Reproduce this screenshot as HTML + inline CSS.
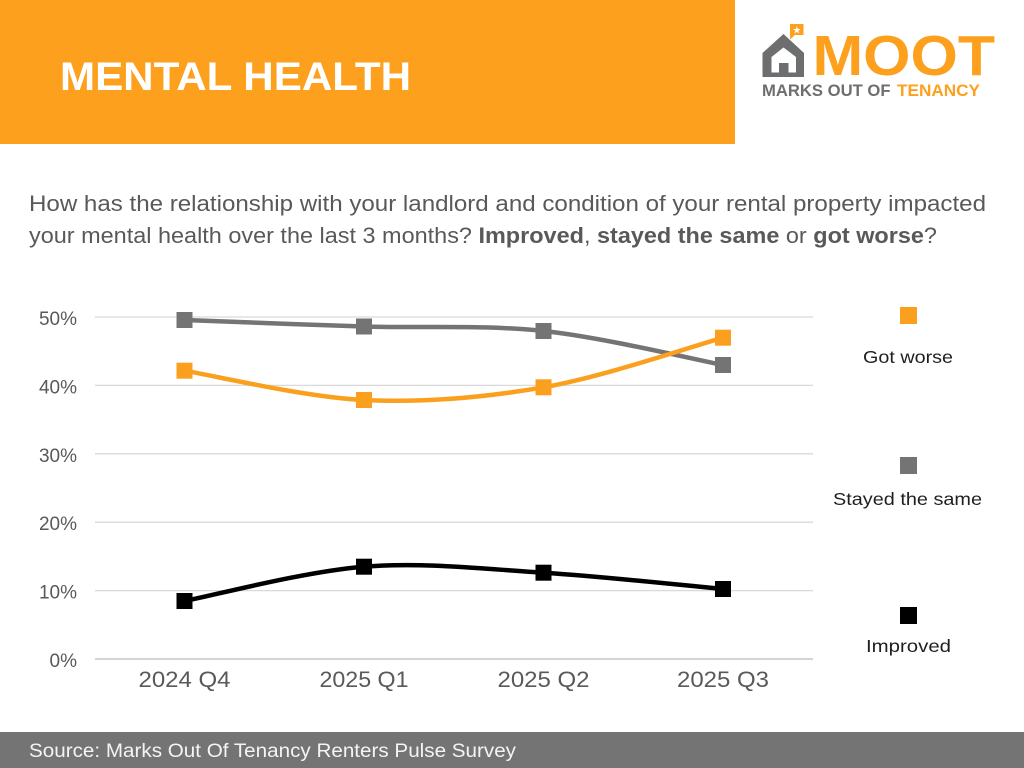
<!DOCTYPE html>
<html>
<head>
<meta charset="utf-8">
<style>
  html, body { margin: 0; padding: 0; background: #ffffff; }
  body { width: 1024px; height: 768px; overflow: hidden; }
  svg { display: block; }
  text { font-family: "Liberation Sans", Arial, sans-serif; }
</style>
</head>
<body>
<svg width="1024" height="768" viewBox="0 0 1024 768" xmlns="http://www.w3.org/2000/svg">
  <rect x="0" y="0" width="1024" height="768" fill="#ffffff"/>

  <!-- Header band -->
  <rect x="0" y="0" width="735" height="144" fill="#FCA01E"/>
  <text x="60" y="90" font-size="40" font-weight="bold" fill="#ffffff" textLength="351" lengthAdjust="spacingAndGlyphs">MENTAL HEALTH</text>

  <!-- Logo -->
  <g>
    <polygon points="762.5,53 783.5,34 804,53 804,77 762.5,77" fill="#6D6E70"/>
    <polygon points="771.5,57 783.5,47.5 796,57 796,72.5 771.5,72.5" fill="#ffffff"/>
    <rect x="779" y="63" width="9.5" height="10" fill="#6D6E70"/>
    <rect x="790" y="24" width="13.5" height="11" fill="#FCA01E"/>
    <polygon points="790,34 796,34 790,39.5" fill="#FCA01E"/>
    <text x="796.8" y="33.5" font-size="10" fill="#ffffff" text-anchor="middle">★</text>
    <text x="812.5" y="75" font-size="57" font-weight="bold" fill="#FCA01E" textLength="182.5" lengthAdjust="spacingAndGlyphs">MOOT</text>
    <text x="762" y="96" font-size="16.5" font-weight="bold" fill="#6D6E70" textLength="128.5" lengthAdjust="spacingAndGlyphs">MARKS OUT OF</text>
    <text x="897" y="96" font-size="16.5" font-weight="bold" fill="#FCA01E" textLength="83" lengthAdjust="spacingAndGlyphs">TENANCY</text>
  </g>

  <!-- Question -->
  <text x="29" y="211" font-size="22" fill="#595959" textLength="957" lengthAdjust="spacingAndGlyphs">How has the relationship with your landlord and condition of your rental property impacted</text>
  <text x="29" y="243" font-size="22" fill="#595959" textLength="908" lengthAdjust="spacingAndGlyphs">your mental health over the last 3 months? <tspan font-weight="bold">Improved</tspan>, <tspan font-weight="bold">stayed the same</tspan> or <tspan font-weight="bold">got worse</tspan>?</text>

  <!-- Gridlines -->
  <g stroke="#d9d9d9" stroke-width="1.3">
    <line x1="95" y1="317" x2="813" y2="317"/>
    <line x1="95" y1="385.4" x2="813" y2="385.4"/>
    <line x1="95" y1="453.8" x2="813" y2="453.8"/>
    <line x1="95" y1="522.2" x2="813" y2="522.2"/>
    <line x1="95" y1="590.6" x2="813" y2="590.6"/>
  </g>
  <line x1="95" y1="659" x2="813" y2="659" stroke="#c6c6c6" stroke-width="1.6"/>

  <!-- Y labels -->
  <g font-size="19" fill="#595959" text-anchor="end">
    <text x="77" y="325">50%</text>
    <text x="77" y="393.4">40%</text>
    <text x="77" y="461.8">30%</text>
    <text x="77" y="530.2">20%</text>
    <text x="77" y="598.6">10%</text>
    <text x="77" y="667">0%</text>
  </g>

  <!-- X labels -->
  <g font-size="22.5" fill="#595959" text-anchor="middle">
    <text x="184.5" y="687" textLength="92" lengthAdjust="spacingAndGlyphs">2024 Q4</text>
    <text x="364" y="687" textLength="89" lengthAdjust="spacingAndGlyphs">2025 Q1</text>
    <text x="543.5" y="687" textLength="92" lengthAdjust="spacingAndGlyphs">2025 Q2</text>
    <text x="723" y="687" textLength="92" lengthAdjust="spacingAndGlyphs">2025 Q3</text>
  </g>

  <!-- Series: Stayed the same (gray) -->
  <path d="M184.5,320 C214.4,321.1 304.2,324.7 364,326.5 C423.8,328.3 483.7,324.6 543.5,331 C603.3,337.4 693.1,359.3 723,365"
        fill="none" stroke="#747474" stroke-width="4.5" stroke-linecap="round"/>
  <!-- Series: Got worse (orange) -->
  <path d="M184.5,370.7 C214.4,375.6 304.2,397.2 364,400 C423.8,402.8 483.7,397.7 543.5,387.3 C603.3,376.9 693.1,346 723,337.7"
        fill="none" stroke="#FBA01E" stroke-width="4.5" stroke-linecap="round"/>
  <!-- Series: Improved (black) -->
  <path d="M184.5,601 C214.4,595.3 304.2,571.4 364,566.7 C423.8,562 483.7,569 543.5,572.7 C603.3,576.4 693.1,586.3 723,589"
        fill="none" stroke="#000000" stroke-width="4.5" stroke-linecap="round"/>

  <!-- Markers -->
  <g fill="#747474">
    <rect x="176.5" y="312" width="16" height="16"/>
    <rect x="356" y="318.5" width="16" height="16"/>
    <rect x="535.5" y="323" width="16" height="16"/>
    <rect x="715" y="357" width="16" height="16"/>
  </g>
  <g fill="#FBA01E">
    <rect x="176.5" y="362.7" width="16" height="16"/>
    <rect x="356" y="392" width="16" height="16"/>
    <rect x="535.5" y="379.3" width="16" height="16"/>
    <rect x="715" y="329.7" width="16" height="16"/>
  </g>
  <g fill="#000000">
    <rect x="176.5" y="593" width="16" height="16"/>
    <rect x="356" y="558.7" width="16" height="16"/>
    <rect x="535.5" y="564.7" width="16" height="16"/>
    <rect x="715" y="581" width="16" height="16"/>
  </g>

  <!-- Legend -->
  <rect x="900" y="307" width="17" height="17" fill="#FBA01E"/>
  <text x="908" y="363" font-size="17.5" fill="#1f1f1f" text-anchor="middle" textLength="90" lengthAdjust="spacingAndGlyphs">Got worse</text>
  <rect x="900" y="457" width="17" height="17" fill="#747474"/>
  <text x="907.5" y="505" font-size="17.5" fill="#1f1f1f" text-anchor="middle" textLength="149" lengthAdjust="spacingAndGlyphs">Stayed the same</text>
  <rect x="900" y="607" width="17" height="17" fill="#000000"/>
  <text x="908.5" y="652" font-size="17.5" fill="#1f1f1f" text-anchor="middle" textLength="85" lengthAdjust="spacingAndGlyphs">Improved</text>

  <!-- Footer -->
  <rect x="0" y="732" width="1024" height="36" fill="#737473"/>
  <text x="29" y="757" font-size="19" fill="#f4f4f4" textLength="487" lengthAdjust="spacingAndGlyphs">Source: Marks Out Of Tenancy Renters Pulse Survey</text>
</svg>
</body>
</html>
